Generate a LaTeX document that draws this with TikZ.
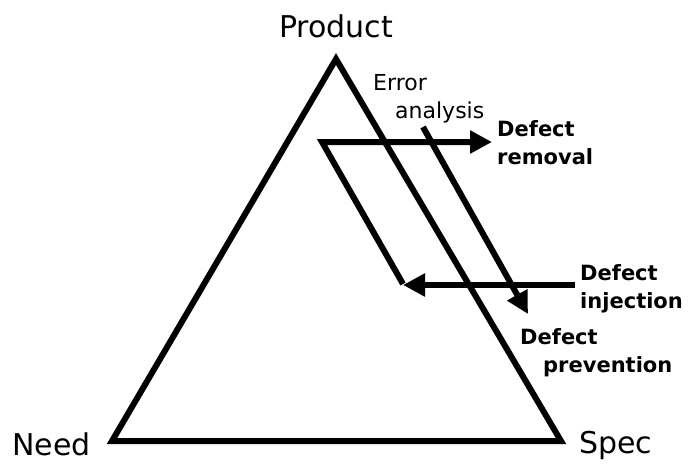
\documentclass[tikz,border=0pt]{standalone}
\usepackage{fontspec}
\setmainfont{DejaVu Sans}
\usetikzlibrary{arrows.meta}
\begin{document}
\begin{tikzpicture}[x=1pt,y=-1pt,
  heavy/.style={line width=6pt, line join=miter, miter limit=10},
  arr/.style={heavy, -{Triangle[length=22pt,width=22pt]}},
  big/.style={font=\fontsize{30}{36}\selectfont, inner sep=0pt},
  lab/.style={font=\bfseries\fontsize{21}{28}\selectfont, inner sep=0pt, anchor=base west},
  note/.style={font=\fontsize{22}{26}\selectfont, inner sep=0pt, anchor=base west}]
\useasboundingbox (0,0) rectangle (696,466);
% triangle corners
\coordinate (P) at (336,59);
\coordinate (S) at (561,441);
\coordinate (N) at (112,441);
\draw[heavy] (P) -- (S) -- (N) -- cycle;
% labels of corners
\node[big, anchor=base] (prod) at (336,37) {Product};
\node[big, anchor=base west] (need) at (12,455) {Need};
\node[big, anchor=base west] (spec) at (579,453) {Spec};
% loop
\coordinate (c1) at (403,284);
\coordinate (c2) at (322,142);
\coordinate (remtip) at (492,142);
\coordinate (injstart) at (575,285);
\coordinate (injtip) at (403,285);
\coordinate (prevstart) at (423,127);
\coordinate (prevtip) at (528,314);
\draw[arr] (c1) -- (c2) -- (remtip);
\draw[arr] (injstart) -- (injtip);
\draw[arr] (prevstart) -- (prevtip);
% texts
\node[note] (err) at (373,90) {Error};
\node[note] (ana) at (395,118) {analysis};
\node[lab] (rem1) at (497,136) {Defect};
\node[lab] (rem2) at (497,164) {removal};
\node[lab] (inj1) at (580,280) {Defect};
\node[lab] (inj2) at (580,308) {injection};
\node[lab] (prev1) at (520,344) {Defect};
\node[lab] (prev2) at (543,372) {prevention};
\end{tikzpicture}
\end{document}
